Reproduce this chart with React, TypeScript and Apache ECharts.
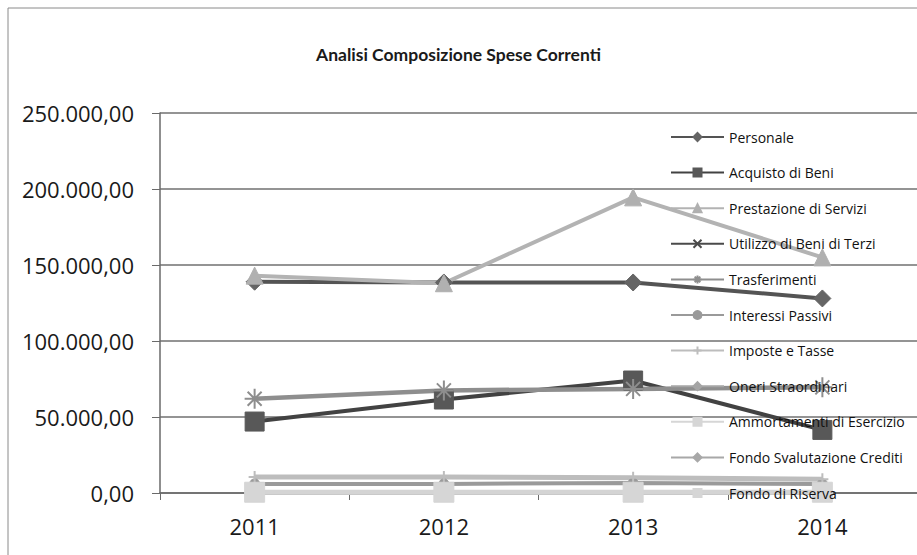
import React, { useEffect, useRef } from "react";
import * as echarts from "echarts";

const years = ["2011", "2012", "2013", "2014"];
const seriesNames = [
  "Personale",
  "Acquisto di Beni",
  "Prestazione di Servizi",
  "Utilizzo di Beni di Terzi",
  "Trasferimenti",
  "Interessi Passivi",
  "Imposte e Tasse",
  "Oneri Straordinari",
  "Ammortamenti di Esercizio",
  "Fondo Svalutazione Crediti",
  "Fondo di Riserva",
];
const personale = [139000, 138500, 138500, 128000];
const acquistoBeni = [47000, 61500, 74000, 41500];
const prestazioneServizi = [143000, 138000, 194500, 155000];
const utilizzoBeniTerzi = [0, 0, 0, 0];
const trasferimenti = [62000, 67500, 68500, 69500];
const interessiPassivi = [6000, 6000, 6500, 6000];
const imposteTasse = [10500, 10500, 10000, 9000];
const oneriStraordinari = [0, 0, 0, 0];
const ammortamenti = [0, 0, 0, 0];
const fondoSvalutazione = [0, 0, 0, 0];
const fondoRiserva = [500, 500, 500, 500];
const yTicks = [0, 50000, 100000, 150000, 200000, 250000];

const seriesData = [
  personale,
  acquistoBeni,
  prestazioneServizi,
  utilizzoBeniTerzi,
  trasferimenti,
  interessiPassivi,
  imposteTasse,
  oneriStraordinari,
  ammortamenti,
  fondoSvalutazione,
  fondoRiserva,
];

const ASTERISK = "path://M0,-10L0,10M-10,0L10,0M-7,-7L7,7M-7,7L7,-7";
const XMARK = "path://M-7,-7L7,7M-7,7L7,-7";
const PLUS = "path://M0,-7L0,7M-7,0L7,0";

type Style = {
  color: string;
  marker: string;
  size: number;
  width: number;
  fill?: string;
  stroke?: boolean;
};

const styles: Style[] = [
  { color: "#545454", marker: "diamond", size: 17, width: 4, fill: "#656565" },
  { color: "#424242", marker: "rect", size: 19, width: 4, fill: "#585858" },
  { color: "#b3b3b3", marker: "triangle", size: 17, width: 4, fill: "#b0b0b0" },
  { color: "#4a4a4a", marker: XMARK, size: 12, width: 4, stroke: true },
  { color: "#8e8e8e", marker: ASTERISK, size: 20, width: 4.5, stroke: true },
  { color: "#9a9a9a", marker: "circle", size: 10, width: 4, fill: "#9a9a9a" },
  { color: "#bdbdbd", marker: PLUS, size: 12, width: 5, stroke: true },
  { color: "#a5a5a5", marker: "diamond", size: 10, width: 4, fill: "#a5a5a5" },
  { color: "#d6d6d6", marker: "rect", size: 10, width: 4, fill: "#d6d6d6" },
  { color: "#a8a8a8", marker: "diamond", size: 10, width: 4, fill: "#a8a8a8" },
  { color: "#d4d4d4", marker: "rect", size: 20, width: 5, fill: "#d6d6d6" },
];

function fmt(v: number): string {
  const s = Math.round(v).toString();
  const parts: string[] = [];
  for (let i = s.length; i > 0; i -= 3) parts.unshift(s.slice(Math.max(0, i - 3), i));
  return parts.join(".") + ",00";
}

export default function App() {
  const ref = useRef<HTMLDivElement>(null);
  useEffect(() => {
    if (!ref.current) return;
    const chart = echarts.init(ref.current, undefined, { renderer: "svg" });
    const font = "'Open Sans', 'Noto Sans', sans-serif";
    chart.setOption({
      animation: false,
      backgroundColor: "#ffffff",
      title: {
        text: "Analisi Composizione Spese Correnti",
        left: "center",
        top: 40,
        textStyle: {
          fontFamily: "Lato, 'Open Sans', sans-serif",
          fontWeight: "bold",
          fontSize: 17.5,
          color: "#1a1a1a",
        },
      },
      graphic: [
        {
          type: "rect",
          shape: { x: 8, y: 8, width: 1000, height: 1000 },
          style: { fill: "none", stroke: "#8a8a8a", lineWidth: 1 },
          silent: true,
        },
      ],
      legend: {
        orient: "vertical",
        left: 665,
        top: 125,
        itemWidth: 53,
        itemHeight: 10,
        itemGap: 21.6,
        data: seriesNames,
        textStyle: { fontFamily: font, fontSize: 14, color: "#111", lineHeight: 14 },
      },
      grid: { left: 160, top: 113, bottom: 62, right: -11, containLabel: false },
      xAxis: {
        type: "category",
        data: years,
        boundaryGap: true,
        axisLine: { show: true, lineStyle: { color: "#6a6a6a", width: 1.5 } },
        axisTick: { show: true, length: 7, lineStyle: { color: "#6a6a6a" } },
        axisLabel: { fontFamily: font, fontSize: 22, color: "#1a1a1a", margin: 22 },
      },
      yAxis: {
        type: "value",
        min: yTicks[0],
        max: yTicks[yTicks.length - 1],
        interval: 50000,
        axisLine: { show: true, lineStyle: { color: "#6a6a6a", width: 1.5 } },
        axisTick: { show: true, length: 8, lineStyle: { color: "#6a6a6a" } },
        splitLine: { show: true, lineStyle: { color: "#707070", width: 1.5 } },
        axisLabel: {
          fontFamily: font,
          fontSize: 22,
          color: "#1a1a1a",
          margin: 26,
          formatter: (v: number) => fmt(v),
        },
      },
      series: seriesNames.map((name, i) => {
        const st = styles[i];
        return {
          name,
          type: "line",
          data: seriesData[i],
          symbol: st.marker,
          symbolSize: st.size,
          showSymbol: true,
          lineStyle: { color: st.color, width: st.width },
          itemStyle: st.stroke
            ? { color: "none", borderColor: st.color, borderWidth: 2 }
            : { color: st.fill, borderColor: st.fill, borderWidth: 1 },
          emphasis: { disabled: true },
        };
      }),
    });
    return () => chart.dispose();
  }, []);
  return (
    <div
      ref={ref}
      style={{ position: "fixed", left: 0, top: 0, width: 917, height: 555 }}
    />
  );
}
